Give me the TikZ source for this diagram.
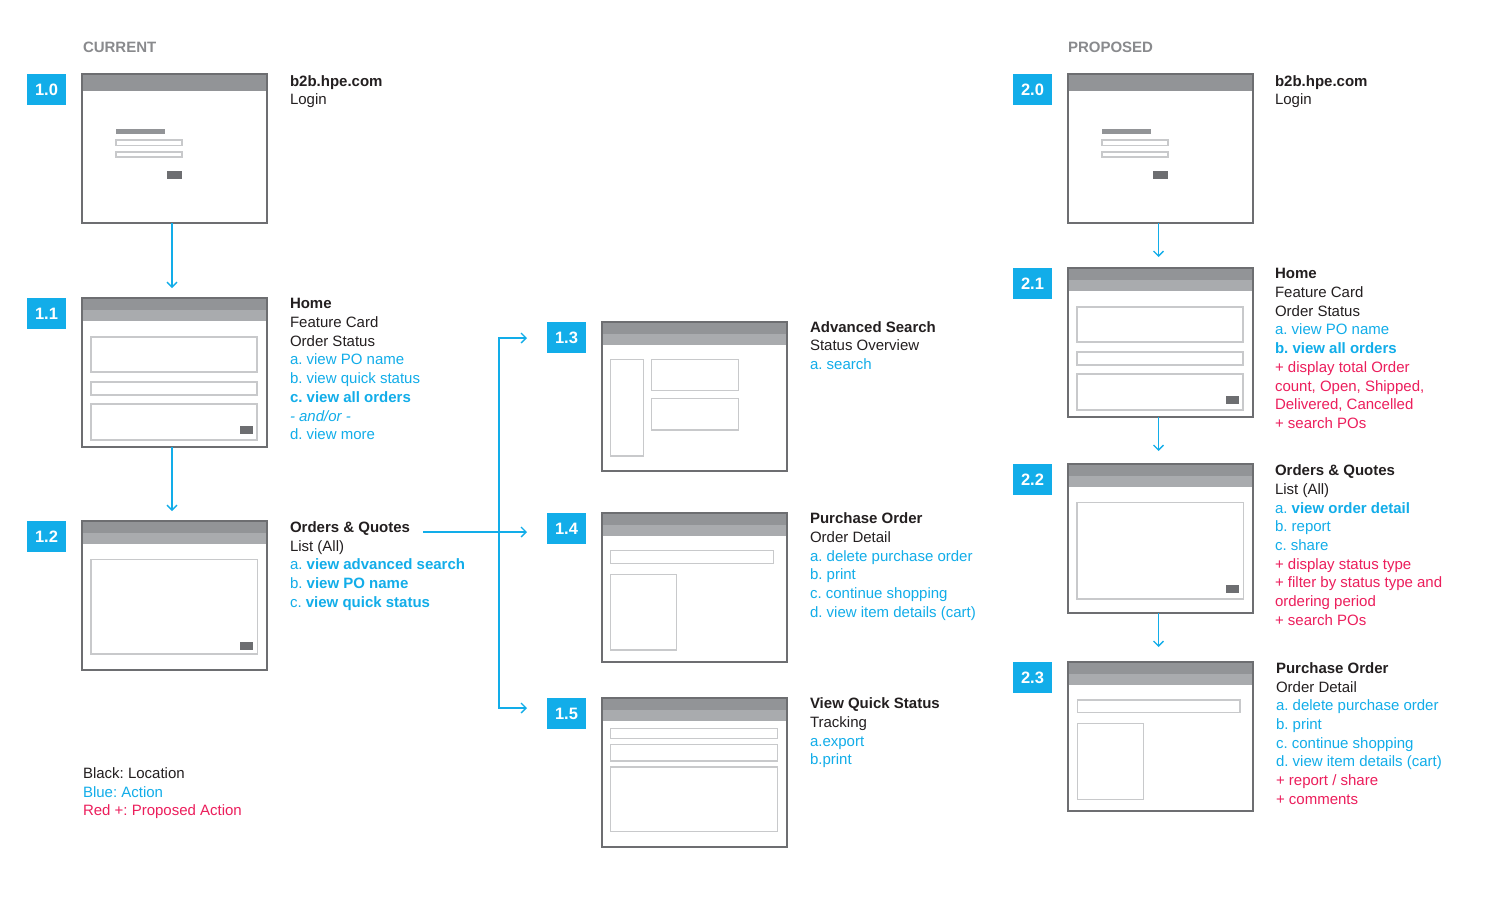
\documentclass[tikz,border=0pt]{standalone}
\usepackage{fontspec}
\setmainfont{Liberation Sans}
\usetikzlibrary{arrows.meta,calc}
\definecolor{hblue}{HTML}{12ADE9}
\definecolor{hred}{HTML}{EC1E5C}
\definecolor{hblack}{HTML}{231F20}
\definecolor{hgray}{HTML}{898A8D}
\definecolor{fgray}{HTML}{6D6E71}
\definecolor{hdark}{HTML}{929497}
\definecolor{hlight}{HTML}{A9ABAE}
\definecolor{lgray}{HTML}{C8C9CB}
\definecolor{bgray}{HTML}{6D6E71}
\newcommand\bl[1]{{\color{hblue}#1}}
\newcommand\rd[1]{{\color{hred}#1}}
\newcommand\appframe[3]{%
  \node[frame] (#1) at (#2,#3) {};
  \fill[hdark] (#1.north west) rectangle ([yshift=-11.5pt]#1.north east);
  \fill[hlight] ([yshift=-11.5pt]#1.north west) rectangle ([yshift=-23pt]#1.north east);
}
\newcommand\loginframe[3]{%
  \node[frame] (#1) at (#2,#3) {};
  \fill[hdark] (#1.north west) rectangle ([yshift=-17pt]#1.north east);
  \begin{scope}[shift={(#1.north west)}]
    \fill[hdark] (34,55) rectangle (83,60);
    \draw[ibox] (34,66) rectangle (100,71.5);
    \draw[ibox] (34,78) rectangle (100,83);
    \fill[bgray] (85,97) rectangle (100,105);
  \end{scope}
}
\newcommand\border[1]{\draw[fborder] (#1.north west) rectangle (#1.south east);}
\frenchspacing
\begin{document}
\frenchspacing
\begin{tikzpicture}[x=1pt,y=-1pt,
 frame/.style={anchor=north west, minimum width=185pt, minimum height=149pt, inner sep=0pt, outer sep=0pt, fill=white},
 fborder/.style={draw=fgray, line width=1.15pt},
 ibox/.style={draw=lgray, line width=1.4pt},
 badge/.style={anchor=north west, fill=hblue, minimum width=39pt, minimum height=31pt, inner sep=0pt, outer sep=0pt, text=white, font=\fontsize{16.5}{18}\selectfont\bfseries},
 txt/.style={anchor=north west, inner sep=0pt, outer sep=0pt, align=left, text=hblack, font=\fontsize{15}{18.7}\selectfont\frenchspacing},
 head/.style={anchor=north west, inner sep=0pt, outer sep=0pt, text=hgray, font=\fontsize{15}{18}\selectfont\bfseries},
 arr/.style={draw=hblue, line width=1.3pt, -{Straight Barb[length=5pt,width=10pt]}},
 arrb/.style={draw=hblue, line width=1.3pt, {Straight Barb[length=5pt,width=10pt]}-{Straight Barb[length=5pt,width=10pt]}},
]
\useasboundingbox[fill=white] (0,0) rectangle (1500,900);

% headings
\node[head] (hcur) at (83,41.9) {CURRENT};
\node[head] (hpro) at (1068,41.9) {PROPOSED};

% ---------- frames ----------
\loginframe{f10}{82}{74}
\border{f10}
\appframe{f11}{82}{298}
\begin{scope}[shift={(f11.north west)}]
  \draw[ibox] (9,39) rectangle (175,74);
  \draw[ibox] (9,84) rectangle (175,97);
  \draw[ibox] (9,106) rectangle (175,142);
  \fill[bgray] (158,128) rectangle (171,136);
\end{scope}
\border{f11}
\appframe{f12}{82}{521}
\begin{scope}[shift={(f12.north west)}]
  \draw[ibox] (9,38.5) rectangle (175.5,133);
  \fill[bgray] (158,121) rectangle (171,129);
\end{scope}
\border{f12}
\appframe{f13}{602}{322}
\begin{scope}[shift={(f13.north west)}]
  \draw[ibox] (8.7,37.3) rectangle (41.3,134);
  \draw[ibox] (49.7,37.3) rectangle (136.7,68.7);
  \draw[ibox] (49.7,76.7) rectangle (136.7,108);
\end{scope}
\border{f13}
\appframe{f14}{602}{513}
\begin{scope}[shift={(f14.north west)}]
  \draw[ibox] (8.7,37.7) rectangle (171.3,50.3);
  \draw[ibox] (8.7,61.3) rectangle (74.7,137);
\end{scope}
\border{f14}
\appframe{f15}{602}{698}
\begin{scope}[shift={(f15.north west)}]
  \draw[ibox] (8.7,30.3) rectangle (175.3,40.3);
  \draw[ibox] (8.7,46.3) rectangle (175.3,63);
  \draw[ibox] (8.7,69) rectangle (175.3,133.7);
\end{scope}
\border{f15}
\loginframe{f20}{1068}{74}
\border{f20}
\appframe{f21}{1068}{268}
\begin{scope}[shift={(f21.north west)}]
  \draw[ibox] (9,39) rectangle (175,74);
  \draw[ibox] (9,84) rectangle (175,97);
  \draw[ibox] (9,106) rectangle (175,142);
  \fill[bgray] (158,128) rectangle (171,136);
\end{scope}
\border{f21}
\appframe{f22}{1068}{464}
\begin{scope}[shift={(f22.north west)}]
  \draw[ibox] (9,38.5) rectangle (175.5,135);
  \fill[bgray] (158,121) rectangle (171,129);
\end{scope}
\border{f22}
\appframe{f23}{1068}{662}
\begin{scope}[shift={(f23.north west)}]
  \draw[ibox] (9.3,38) rectangle (172,50.7);
  \draw[ibox] (9.3,61.3) rectangle (75.3,137.3);
\end{scope}
\border{f23}

% ---------- badges ----------
\node[badge] (b10) at (27,74) {1.0};
\node[badge] (b11) at (27,298) {1.1};
\node[badge] (b12) at (27,521) {1.2};
\node[badge] (b13) at (547,322) {1.3};
\node[badge] (b14) at (547,513) {1.4};
\node[badge] (b15) at (547,698) {1.5};
\node[badge] (b20) at (1013,74) {2.0};
\node[badge] (b21) at (1013,268) {2.1};
\node[badge] (b22) at (1013,464) {2.2};
\node[badge] (b23) at (1013,662) {2.3};

% ---------- texts ----------
\node[txt] (t10) at (290,75.2) {\textbf{b2b.hpe.com}\\Login};
\node[txt] (t11) at (290,298.5) {\textbf{Home}\\Feature Card\\Order Status\\\bl{a. view PO name}\\\bl{b. view quick status}\\\bl{\textbf{c. view all orders}}\\\bl{\textit{- and/or -}}\\\bl{d. view more}};
\node[txt] (t12) at (290,521.7) {\textbf{Orders \& Quotes}\\List (All)\\\bl{a. \textbf{view advanced search}}\\\bl{b. \textbf{view PO name}}\\\bl{c. \textbf{view quick status}}};
\node[txt] (t13) at (810,321.2) {\textbf{Advanced Search}\\Status Overview\\\bl{a. search}};
\node[txt] (t14) at (810,512.9) {\textbf{Purchase Order}\\Order Detail\\\bl{a. delete purchase order}\\\bl{b. print}\\\bl{c. continue shopping}\\\bl{d. view item details (cart)}};
\node[txt] (t15) at (810,697.9) {\textbf{View Quick Status}\\Tracking\\\bl{a.export}\\\bl{b.print}};
\node[txt] (t20) at (1275,75.2) {\textbf{b2b.hpe.com}\\Login};
\node[txt] (t21) at (1275,268.5) {\textbf{Home}\\Feature Card\\Order Status\\\bl{a. view PO name}\\\bl{\textbf{b. view all orders}}\\\rd{+ display total Order}\\\rd{count, Open, Shipped,}\\\rd{Delivered, Cancelled}\\\rd{+ search POs}};
\node[txt] (t22) at (1275,464.9) {\textbf{Orders \& Quotes}\\List (All)\\\bl{a. \textbf{view order detail}}\\\bl{b. report}\\\bl{c. share}\\\rd{+ display status type}\\\rd{+ filter by status type and}\\\rd{ordering period}\\\rd{+ search POs}};
\node[txt] (t23) at (1276,662.5) {\textbf{Purchase Order}\\Order Detail\\\bl{a. delete purchase order}\\\bl{b. print}\\\bl{c. continue shopping}\\\bl{d. view item details (cart)}\\\rd{+ report / share}\\\rd{+ comments}};
\node[txt] (leg) at (83,767.5) {Black: Location\\\bl{Blue: Action}\\\rd{Red +: Proposed Action}};

% ---------- connectors ----------
\draw[arr] ([xshift=-2.5pt]f10.south) -- ([xshift=-2.5pt,yshift=10pt]f11.north);
\draw[arr] ([xshift=-2.5pt]f11.south) -- ([xshift=-2.5pt,yshift=10pt]f12.north);
\draw[arr] ([xshift=-2pt]f20.south) -- ([xshift=-2pt,yshift=11pt]f21.north);
\draw[arr] ([xshift=-2pt]f21.south) -- ([xshift=-2pt,yshift=13pt]f22.north);
\draw[arr] ([xshift=-2pt]f22.south) -- ([xshift=-2pt,yshift=15pt]f23.north);

\coordinate (q12) at (423,532);
\coordinate (v1) at (499,338);
\coordinate (v2) at (499,708);
\draw[arrb] ($(v1 -| b13.west)+(-20,0)$) -- (v1) -- (v2) -- ($(v2 -| b15.west)+(-20,0)$);
\draw[arr] (q12) -- ($(q12 -| b14.west)+(-20,0)$);
\end{tikzpicture}
\end{document}
